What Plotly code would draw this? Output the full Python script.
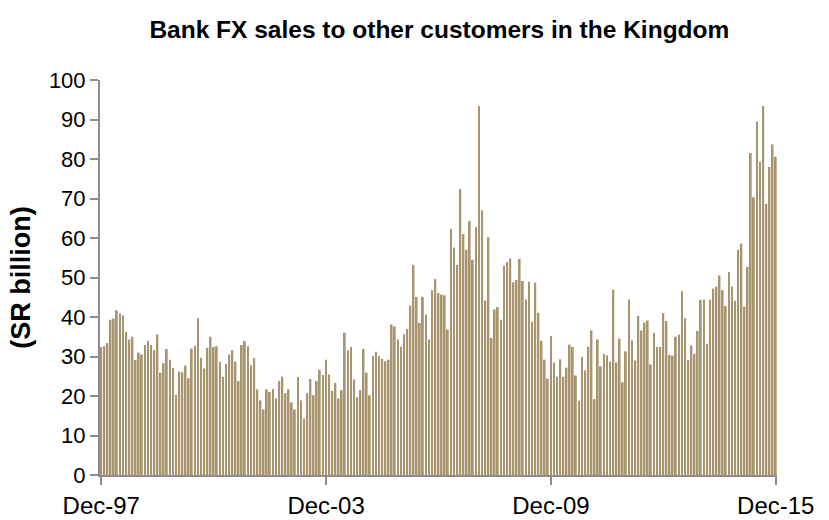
import plotly.graph_objects as go

# Monthly values, Dec-97 .. Dec-15 (SR billion)
fx_sales = [
    32.4, 32.6, 33.4, 39.3, 39.6, 41.7, 40.9, 40.4, 36.2, 34.3,
    35.0, 29.1, 31.0, 30.5, 32.9, 33.9, 32.9, 31.6, 35.6, 25.9,
    28.3, 31.9, 29.2, 27.1, 20.3, 26.2, 26.0, 27.7, 24.5, 32.0,
    32.7, 39.7, 29.7, 27.0, 32.2, 35.0, 32.4, 32.6, 28.7, 24.9,
    28.1, 30.5, 31.6, 28.7, 23.8, 32.9, 33.9, 32.6, 27.8, 29.6,
    21.7, 18.9, 16.6, 21.7, 21.0, 21.8,
    19.4, 23.8, 24.9, 20.7, 21.7, 18.4, 16.6, 24.8, 18.9, 14.3,
    20.7, 24.3, 20.2, 23.8, 26.6, 25.3, 29.2, 25.4, 21.3, 23.3,
    19.4, 21.5, 36.0, 31.6, 32.4, 24.2, 19.7, 21.5, 31.9, 25.9,
    20.2, 30.1, 31.2, 30.1, 29.4, 28.8, 29.2, 38.1, 37.6, 34.3,
    32.5, 35.6, 37.0, 42.9, 53.2, 45.1, 38.5, 45.1, 40.6, 34.3,
    46.8, 49.6, 46.1, 45.7, 45.5, 36.8,
    62.3, 57.6, 53.2, 72.4, 61.0, 57.0, 64.3, 54.5, 62.8, 93.4,
    67.0, 44.2, 60.2, 34.7, 41.9, 42.5, 39.3, 53.0, 53.9, 54.8,
    48.8, 49.4, 54.7, 49.1, 44.4, 48.9, 38.8, 48.7, 41.1, 34.0,
    29.2, 24.4, 35.2, 28.5, 24.9, 29.3, 24.9, 27.2, 33.0, 32.4,
    25.2, 18.8, 29.9, 26.5, 32.5, 36.6, 19.2, 34.3, 27.5, 30.7,
    30.3, 28.7, 46.9, 28.5, 34.5,
    23.5, 31.3, 44.4, 34.1, 29.0, 40.3, 36.6, 38.6, 39.1, 28.0,
    36.0, 32.4, 32.4, 41.0, 39.0, 30.4, 30.2, 35.0, 35.6, 46.5,
    39.7, 29.1, 32.8, 30.7, 36.5, 44.3, 44.4, 33.2, 44.4, 47.2,
    47.7, 50.5, 46.8, 42.8, 51.4, 47.7, 44.1, 57.0, 58.6, 42.6,
    52.7, 81.5, 70.3, 89.5, 79.3, 93.4, 68.7, 78.0, 83.7, 80.6,
]
months = list(range(len(fx_sales)))  # 0 = Dec-97

tick_months = [0, 72, 144, 216]
tick_labels = ["Dec-97", "Dec-03", "Dec-09", "Dec-15"]
y_ticks = list(range(0, 101, 10))

FONT = "Liberation Sans, Arial, sans-serif"
AXIS_GREY = "#8c8c8c"

fig = go.Figure(go.Bar(
    x=months,
    y=fx_sales,
    width=0.58,
    marker=dict(color="#a8956f", line=dict(width=0)),
    hoverinfo="x+y",
))

fig.update_layout(
    width=829,
    height=520,
    margin=dict(l=100, r=52, t=80, b=45, autoexpand=False),
    paper_bgcolor="white",
    plot_bgcolor="white",
    showlegend=False,
    font=dict(family=FONT, size=22, color="black"),
    title=dict(
        text="<b>Bank FX sales to other customers in the Kingdom</b>",
        x=0.53, xanchor="center", y=0.943, yanchor="middle",
        font=dict(family=FONT, size=24.5, color="black"),
    ),
)

fig.update_xaxes(
    range=[-0.4, 216.4],
    tickmode="array",
    tickvals=tick_months,
    ticktext=tick_labels,
    ticks="outside",
    ticklen=8,
    tickwidth=1.5,
    tickcolor=AXIS_GREY,
    showline=True,
    linecolor=AXIS_GREY,
    linewidth=2,
    showgrid=False,
    zeroline=False,
    automargin=False,
    tickfont=dict(size=24),
)

fig.update_yaxes(
    range=[0, 100],
    tickmode="array",
    tickvals=y_ticks,
    ticks="outside",
    ticklen=8,
    tickwidth=1.5,
    tickcolor=AXIS_GREY,
    showline=True,
    linecolor=AXIS_GREY,
    linewidth=2,
    showgrid=False,
    zeroline=False,
    automargin=False,
    tickfont=dict(size=22),
    title=dict(text="<b>(SR billion)</b>", font=dict(size=27), standoff=10),
)

# the page's default body margin would shift the chart 8px down/right
fig.write_html(
    "out.html",
    config={"displayModeBar": False},
    post_script="document.body.style.margin='0';",
)
